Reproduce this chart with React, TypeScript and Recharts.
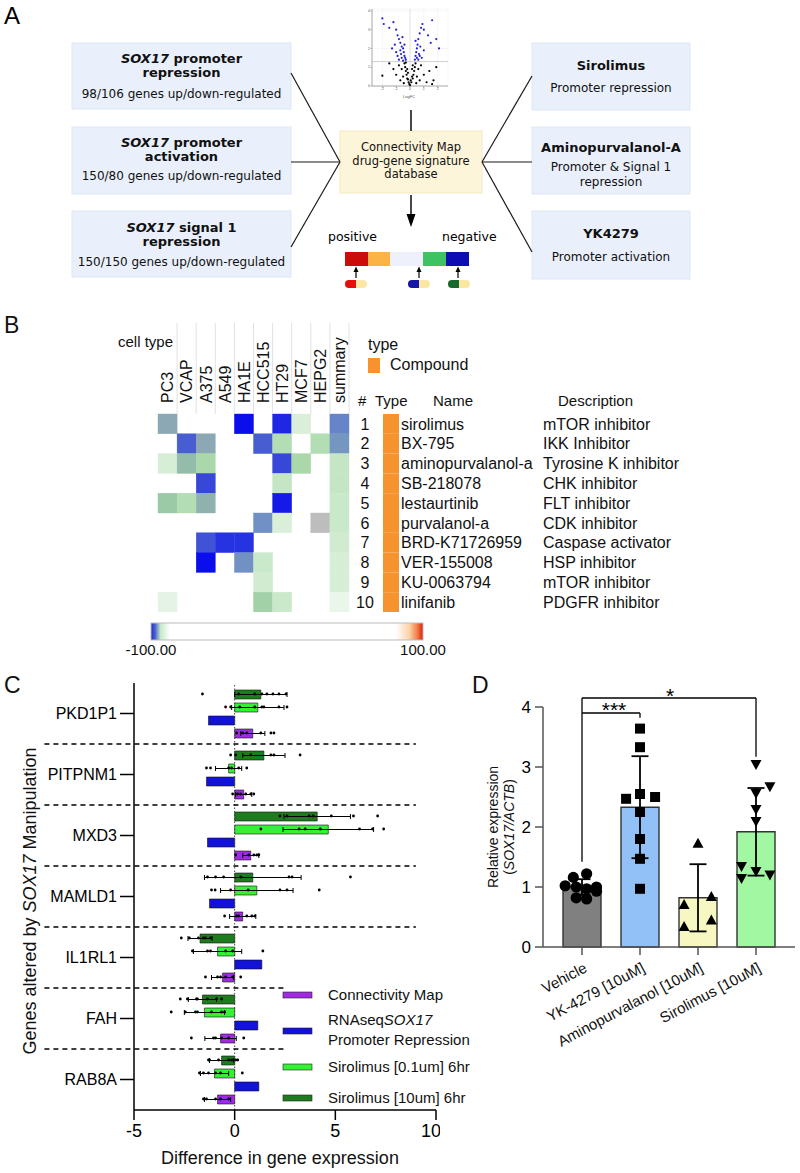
import React from 'react'
import {
  ScatterChart, Scatter, BarChart, Bar, XAxis, YAxis, ErrorBar, Cell,
  ReferenceLine, CartesianGrid,
} from 'recharts'

const SANS = '"Liberation Sans", Arial, sans-serif'
const VERDANA = '"DejaVu Sans", Verdana, sans-serif'

// ---- A: volcano thumbnail [logFC, -log10 p]
const VOLCANO_SIG = [
  [-2.0, 3.6], [-1.9, 3.3], [-1.5, 3.1], [-1.2, 3.4], [-1.0, 3.0], [-0.9, 2.7], [-0.8, 2.5],
  [-0.7, 2.3], [-0.6, 2.1], [-0.5, 2.0], [-0.45, 1.8], [-0.4, 1.6], [-0.35, 1.5], [-0.3, 1.4],
  [-0.7, 1.9], [-0.9, 1.6], [-1.1, 2.2], [-0.6, 1.5], [-0.55, 2.6], [-1.3, 2.0], [0.35, 1.4],
  [0.4, 1.6], [0.45, 1.8], [0.5, 2.0], [0.55, 2.2], [0.6, 2.5], [0.7, 2.8], [0.8, 3.1],
  [0.9, 3.3], [1.0, 3.0], [1.6, 3.5], [1.3, 2.7], [0.65, 1.7], [0.75, 2.1], [0.5, 1.5],
  [1.5, 2.3], [2.1, 2.0], [1.9, 2.5], [1.0, 1.9], [0.85, 1.5], [-0.8, 1.4], [-1.0, 1.8],
  [-0.5, 1.35], [-0.4, 2.2], [0.4, 2.4], [0.6, 1.4], [-0.65, 1.7], [0.7, 1.6],
]
const VOLCANO_NS = [
  [0, 0.05], [-0.1, 0.2], [0.1, 0.2], [-0.2, 0.4], [0.2, 0.4], [-0.25, 0.6], [0.25, 0.6],
  [-0.3, 0.8], [0.3, 0.8], [-0.35, 1.0], [0.35, 1.0], [-0.4, 1.2], [0.4, 1.2], [-0.5, 0.5],
  [0.5, 0.5], [-0.6, 0.9], [0.6, 0.9], [-0.7, 0.3], [0.7, 0.3], [-0.8, 1.1], [0.8, 1.1],
  [-1.0, 0.6], [1.0, 0.6], [-1.2, 0.9], [1.2, 0.2], [1.4, 0.8], [1.6, 0.1], [1.7, 0.3],
  [-2.0, 0.55], [-0.15, 0.7], [0.15, 0.9], [-0.45, 0.15], [0.45, 0.15], [-1.5, 1.2], [1.9, 1.0],
  [-0.05, 0.1], [0.05, 0.3], [-0.15, 0.35], [0.15, 0.5], [-0.2, 0.9], [0.2, 1.1], [-0.3, 1.25],
]

// ---- B: connectivity map query
const CELL_LINES = ['PC3', 'VCAP', 'A375', 'A549', 'HA1E', 'HCC515', 'HT29', 'MCF7', 'HEPG2', 'summary']
const DRUGS = ['sirolimus', 'BX-795', 'aminopurvalanol-a', 'SB-218078', 'lestaurtinib', 'purvalanol-a',
  'BRD-K71726959', 'VER-155008', 'KU-0063794', 'linifanib']
const DRUG_CLASS = ['mTOR inhibitor', 'IKK Inhibitor', 'Tyrosine K inhibitor', 'CHK inhibitor', 'FLT inhibitor',
  'CDK inhibitor', 'Caspase activator', 'HSP inhibitor', 'mTOR inhibitor', 'PDGFR inhibitor']
const NA = 'NA'
// one row per drug, columns follow CELL_LINES; null = not in top hits
const SCORES: (number | null | string)[][] = [
  [-97, null, null, null, -99.9, null, -99.7, -90.5, null, -98.6],
  [null, -99.2, -97, null, null, -99.2, -93.5, null, -93.5, -98],
  [-91, -96, -94, null, null, null, -99.4, -94, null, -92.5],
  [null, null, -99.4, null, null, null, -92.5, null, null, -92.5],
  [-95, -93.5, -96.5, null, null, null, -99.8, null, null, -92],
  [null, null, null, null, null, -98.2, -90.5, null, NA, -92],
  [null, null, -99.3, -99.6, -99.6, null, null, null, null, -91.5],
  [null, null, -99.9, null, -98.2, -92, null, null, null, -91],
  [null, null, null, null, null, -91.5, null, null, null, -91],
  [-89, null, null, null, null, -94.5, -92, null, null, -87],
]
const HEAT_STOPS: [number, number[]][] = [
  [-100, [0, 0, 240]], [-99.7, [30, 40, 228]], [-99.2, [72, 94, 208]], [-98.6, [104, 132, 200]],
  [-98, [118, 150, 194]], [-97, [140, 168, 180]], [-96, [148, 188, 170]], [-95, [154, 202, 166]],
  [-94, [170, 216, 170]], [-92.5, [196, 230, 196]], [-91, [214, 238, 214]], [-89, [228, 243, 228]],
  [-85, [242, 249, 242]], [-80, [255, 255, 255]],
]

// ---- C: qPCR after sirolimus vs. signatures
const GENES = ['PKD1P1', 'PITPNM1', 'MXD3', 'MAMLD1', 'IL1RL1', 'FAH', 'RAB8A']
const SIRO10 = [1.3, 1.45, 4.1, 0.9, -1.72, -1.6, -0.65]
const SIRO10_SD = [1.3, 1.05, 1.65, 2.4, 0.6, 0.7, 0.6]
const SIRO01 = [1.15, -0.3, 4.65, 1.1, -0.85, -1.5, -1.0]
const SIRO01_SD = [1.3, 0.65, 2.25, 1.8, 1.2, 1.0, 0.7]
const RNASEQ = [-1.3, -1.4, -1.35, -1.25, 1.35, 1.15, 1.2]
const CMAP = [0.9, 0.45, 0.8, 0.4, -0.6, -0.7, -0.85]
const CMAP_SD = [0.6, 0.4, 0.4, 0.65, 0.55, 0.78, 0.65]
const SIRO10_REPS = [
  [-1.6, 0.2, 1.0, 1.35, 1.6, 1.9, 2.2, 2.55],
  [-0.2, 0.05, 0.8, 1.8, 1.95, 3.25],
  [2.25, 2.6, 3.7, 3.9, 4.8, 5.9, 7.1],
  [-1.35, -0.95, -0.55, 0.3, 2.7, 2.85, 5.75],
  [-2.65, -2.25, -1.8, -1.55, -1.45, -1.2],
  [-2.7, -2.35, -1.9, -1.85, -1.35, -0.9, -0.65],
  [-1.3, -1.25, -0.8, -0.3, -0.15, 0.05, 0.15],
]
const SIRO01_REPS = [
  [-0.45, -0.2, 0.25, 1.0, 1.35, 1.45, 2.2, 2.6],
  [-1.4, -1.2, -0.3, -0.15, 0.2, 0.6],
  [1.3, 3.2, 3.5, 4.25, 6.2, 6.85, 7.4],
  [-1.15, -0.97, -0.2, 0.67, 2.25, 2.6, 4.2],
  [-2.1, -1.35, -1.2, -0.45, -0.1, 1.4],
  [-3.15, -2.45, -1.95, -1.85, -1.15, -0.65, -0.5],
  [-1.75, -1.55, -1.3, -0.95, -0.7, 0.38],
]
const CMAP_REPS = [
  [0.1, 0.4, 0.6, 1.3, 1.8, 1.95],
  [-0.1, 0.15, 0.3, 0.55, 0.8, 0.95],
  [0.05, 0.7, 0.95, 1.1, 1.2],
  [-0.5, 0.1, 0.2, 0.6, 0.85, 1.0],
  [-1.45, -0.85, -0.7, -0.45, -0.1, 0.3],
  [-2.15, -1.05, -0.95, -0.65, -0.3, 0.45],
  [-1.55, -1.4, -0.95, -0.7, -0.3],
]

// ---- D: SOX17 expression after treatment
const TREATMENTS = ['Vehicle', 'YK-4279 [10uM]', 'Aminopurvalanol [10uM]', 'Sirolimus [10uM]']
const REL_MEAN = [1.0, 2.33, 0.82, 1.92]
const REL_SD = [0.13, 0.85, 0.56, 0.73]
// [jitter, value]
const VEHICLE_PTS = [[0.08, 1.22], [-0.15, 1.16], [-0.29, 1.02], [0.25, 1.0], [-0.1, 1.0], [0.08, 0.97], [0.25, 0.93], [-0.1, 0.82], [0.08, 0.8]]
const YK_PTS = [[0, 3.64], [0, 3.33], [-0.24, 2.47], [0, 2.55], [0.26, 2.5], [0, 2.25], [0, 1.8], [0, 1.47], [0, 0.97]]
const AMINO_PTS = [[0, 1.73], [-0.24, 0.71], [0.23, 0.84], [-0.24, 0.34], [0.23, 0.45]]
const SIRO_PTS = [[0, 3.04], [0.24, 2.67], [0, 2.56], [0, 2.29], [0, 2.09], [-0.25, 1.34], [-0.25, 1.14], [0, 1.26], [0.24, 1.2]]

const C_COLORS = { siro10: '#1e7b1e', siro01: '#35f035', rnaseq: '#1212d8', cmap: '#a12be0' }
const D_COLORS = ['#808080', '#92c1f7', '#f7f7c2', '#a2f7a2']

function heatColor(v: any) {
  if (v === NA) return '#bdbdbd'
  if (v <= HEAT_STOPS[0][0]) return `rgb(${HEAT_STOPS[0][1].join(',')})`
  for (let i = 1; i < HEAT_STOPS.length; i++) {
    const [v1, c1] = HEAT_STOPS[i]
    const [v0, c0] = HEAT_STOPS[i - 1]
    if (v <= v1) {
      const t = (v - v0) / (v1 - v0)
      const c = c0.map((a, k) => Math.round(a + (c1[k] - a) * t))
      return `rgb(${c.join(',')})`
    }
  }
  return '#fff'
}

// ------------------------------------------------------------ panel A
function PanelA() {
  const box = (x: number, y: number, w: number, h: number) => (
    <rect x={x} y={y} width={w} height={h} fill="#e9f0fb" stroke="#dde7f6" />
  )
  const pill = (x: number, c: string) => (
    <g>
      <rect x={x} y={280} width={22} height={8} rx={4} fill="#fbe7a4" />
      <rect x={x} y={280} width={11} height={8} rx={4} fill={c} />
      <rect x={x + 6} y={280} width={5} height={8} fill={c} />
    </g>
  )
  const upArrow = (x: number) => (
    <g>
      <line x1={x} y1={278} x2={x} y2={271} stroke="#000" strokeWidth={1.2} />
      <polygon points={`${x - 2.5},272 ${x + 2.5},272 ${x},266.5`} fill="#000" />
    </g>
  )
  return (
    <svg width={800} height={290} style={{ position: 'absolute', left: 0, top: 0 }} fontFamily={VERDANA}>
      <text x={4} y={24} fontSize={24} fontFamily={SANS}>A</text>
      {box(72, 43, 219, 66)}
      {box(72, 127, 219, 67)}
      {box(72, 211, 219, 66)}
      {box(532, 43, 158, 67)}
      {box(532, 127, 158, 67)}
      {box(532, 211, 158, 68)}
      <rect x={340} y={131} width={142} height={62} fill="#fdf5d9" stroke="#f3e8c0" />
      <g fill="#111" textAnchor="middle">
        <text x={181.5} y={63} fontSize={13} fontWeight="bold"><tspan fontStyle="italic">SOX17</tspan> promoter</text>
        <text x={181.5} y={77} fontSize={13} fontWeight="bold">repression</text>
        <text x={181.5} y={98} fontSize={12}>98/106 genes up/down-regulated</text>
        <text x={181.5} y={147} fontSize={13} fontWeight="bold"><tspan fontStyle="italic">SOX17</tspan> promoter</text>
        <text x={181.5} y={161} fontSize={13} fontWeight="bold">activation</text>
        <text x={181.5} y={180} fontSize={12}>150/80 genes up/down-regulated</text>
        <text x={181.5} y={232} fontSize={13} fontWeight="bold"><tspan fontStyle="italic">SOX17</tspan> signal 1</text>
        <text x={181.5} y={246} fontSize={13} fontWeight="bold">repression</text>
        <text x={181.5} y={266} fontSize={12}>150/150 genes up/down-regulated</text>
        <text x={411} y={151} fontSize={11.5}>Connectivity Map</text>
        <text x={411} y={165} fontSize={11.5}>drug-gene signature</text>
        <text x={411} y={178} fontSize={11.5}>database</text>
        <text x={611} y={70} fontSize={13} fontWeight="bold">Sirolimus</text>
        <text x={611} y={92} fontSize={12}>Promoter repression</text>
        <text x={611} y={152} fontSize={13} fontWeight="bold">Aminopurvalanol-A</text>
        <text x={611} y={171} fontSize={12}>Promoter &amp; Signal 1</text>
        <text x={611} y={186} fontSize={12}>repression</text>
        <text x={611} y={238} fontSize={13} fontWeight="bold">YK4279</text>
        <text x={611} y={261} fontSize={12}>Promoter activation</text>
      </g>
      <g stroke="#1a1a1a" strokeWidth={1.2}>
        <line x1={291} y1={73} x2={340} y2={162} />
        <line x1={291} y1={162} x2={340} y2={162} />
        <line x1={291} y1={247} x2={340} y2={162} />
        <line x1={482} y1={162} x2={532} y2={76} />
        <line x1={482} y1={162} x2={532} y2={162} />
        <line x1={482} y1={162} x2={532} y2={252} />
        <line x1={411} y1={110} x2={411} y2={131} strokeWidth={1.6} />
        <line x1={411} y1={195} x2={411} y2={216} strokeWidth={1.6} />
      </g>
      <polygon points="406.5,214 415.5,214 411,227" fill="#000" />
      <text x={328} y={241} fontSize={12.5}>positive</text>
      <text x={442} y={241} fontSize={12.5}>negative</text>
      <rect x={345} y={252} width={23} height={14} fill="#cc0b0b" />
      <rect x={368} y={252} width={22} height={14} fill="#fbb343" />
      <rect x={390} y={252} width={33} height={14} fill="#eef0fb" />
      <rect x={423} y={252} width={23} height={14} fill="#3ec262" />
      <rect x={446} y={252} width={23} height={14} fill="#0d0db3" />
      {upArrow(356)}
      {upArrow(419)}
      {upArrow(458)}
      {pill(345, '#e60d0d')}
      {pill(408, '#1616a8')}
      {pill(448, '#17692d')}
    </svg>
  )
}

function Volcano() {
  const sig = VOLCANO_SIG.map(([x, y]) => ({ x, y }))
  const ns = VOLCANO_NS.map(([x, y]) => ({ x, y }))
  const dot = (fill: string) => (p: any) => <circle cx={p.cx} cy={p.cy} r={1.1} fill={fill} />
  return (
    <div style={{ position: 'absolute', left: 360, top: 0 }}>
      <ScatterChart width={100} height={105} margin={{ top: 9, right: 12, bottom: 11, left: 7 }}>
        <CartesianGrid stroke="#eee" strokeWidth={0.5} />
        <XAxis type="number" dataKey="x" domain={[-2.75, 2.75]} ticks={[-2, -1, 0, 1, 2]} height={8}
          tickSize={1.5} tickMargin={0.5} stroke="#aaa" tick={{ fontSize: 3.5, fill: '#555' }} />
        <YAxis type="number" dataKey="y" domain={[0, 4.1]} ticks={[0, 1, 2, 3, 4]} width={5}
          tickSize={1.5} tickMargin={0.5} stroke="#aaa" tick={{ fontSize: 3.5, fill: '#555' }} />
        <ReferenceLine y={1.3} stroke="#bbb" strokeWidth={0.7} />
        <ReferenceLine x={0} stroke="#ccc" strokeWidth={0.5} />
        <Scatter data={ns} shape={dot('#000')} isAnimationActive={false} />
        <Scatter data={sig} shape={dot('#2424d6')} isAnimationActive={false} />
      </ScatterChart>
      <div style={{ position: 'absolute', left: 43, top: 94, fontSize: 4, color: '#555' }}>LogFC</div>
    </div>
  )
}

// ------------------------------------------------------------ panel B
const HM_W = 800, HM_H = 322, HM_LEFT = 158, HM_HEAD = 124, HM_RIGHT = 451
const HM_COL_W = (HM_W - HM_LEFT - HM_RIGHT) / CELL_LINES.length
const HM_ROW_H = (HM_H - HM_HEAD) / DRUGS.length

function HeatCell(p: any) {
  const fill = heatColor(p.payload.score)
  return <rect x={p.cx - HM_COL_W / 2} y={p.cy - HM_ROW_H / 2} width={HM_COL_W} height={HM_ROW_H}
    fill={fill} stroke={fill} strokeWidth={0.4} />
}

function ColumnTick(p: any) {
  const { x, y, payload } = p
  return (
    <g>
      <line x1={x + HM_COL_W / 2} x2={x + HM_COL_W / 2} y1={y - 83} y2={y + 8} stroke="#e2e2e2" />
      <text x={0} y={0} transform={`translate(${x},${y - 3}) rotate(-90)`} dy="0.36em" fontSize={16}
        fill="#111" fontFamily={SANS}>{CELL_LINES[payload.value]}</text>
    </g>
  )
}

function DrugTick(p: any) {
  const { x, y, payload } = p
  const i = payload.value - 1
  return (
    <g fontFamily={SANS} fontSize={16} fill="#111">
      <text x={x + 8} y={y} dy="0.36em" textAnchor="middle">{payload.value}</text>
      <rect x={x + 26} y={y - HM_ROW_H / 2} width={16} height={HM_ROW_H} fill="#f7932f" />
      <text x={x + 44} y={y} dy="0.36em">{DRUGS[i]}</text>
      <text x={x + 186} y={y} dy="0.36em">{DRUG_CLASS[i]}</text>
    </g>
  )
}

function Heatmap() {
  const cells: any[] = []
  SCORES.forEach((row, r) => row.forEach((score, c) => {
    if (score !== null) cells.push({ col: c, row: r + 1, score })
  }))
  return (
    <div style={{ position: 'absolute', left: 0, top: 290 }}>
      <ScatterChart width={HM_W} height={HM_H} margin={{ top: 0, right: 0, bottom: 0, left: HM_LEFT }}>
        <XAxis type="number" dataKey="col" orientation="top" domain={[-0.5, 9.5]}
          ticks={CELL_LINES.map((_, i) => i)} interval={0} height={HM_HEAD}
          axisLine={false} tickLine={false} tick={<ColumnTick />} />
        <YAxis type="number" dataKey="row" orientation="right" domain={[0.5, 10.5]} reversed
          ticks={DRUGS.map((_, i) => i + 1)} interval={0} width={HM_RIGHT}
          axisLine={false} tickLine={false} tick={<DrugTick />} />
        <Scatter data={cells} shape={HeatCell} isAnimationActive={false} />
      </ScatterChart>
    </div>
  )
}

// ------------------------------------------------------------ panel C
const C_W = 440, C_H = 503
const C_MARGIN = { top: 13, right: 4, bottom: 33, left: 0 }
const C_XAXIS_H = 30, C_YAXIS_W = 134
const BAR_SIZE = 9, BAR_GAP = 4
const C_BAND = (C_H - C_MARGIN.top - C_MARGIN.bottom - C_XAXIS_H) / GENES.length
const C_STEP = (BAR_SIZE + BAR_GAP) / C_BAND

function GeneBars() {
  const rows = GENES.map((gene, i) => ({
    gene,
    siro10: SIRO10[i], siro10Sd: SIRO10_SD[i],
    siro01: SIRO01[i], siro01Sd: SIRO01_SD[i],
    rnaseq: RNASEQ[i],
    cmap: CMAP[i], cmapSd: CMAP_SD[i],
  }))
  // replicate dots sit on the bar they belong to: slot 0..3 within a gene band
  const dots: any[] = []
  const addReps = (reps: number[][], slot: number) => reps.forEach((vals, g) =>
    vals.forEach(v => dots.push({ v, pos: g + 0.5 + (slot - 1.5) * C_STEP })))
  addReps(SIRO10_REPS, 0)
  addReps(SIRO01_REPS, 1)
  addReps(CMAP_REPS, 3)

  const axisTick = { fill: '#000', fontSize: 18, fontFamily: SANS }
  return (
    <div style={{ position: 'absolute', left: 0, top: 670 }}>
      <BarChart layout="vertical" width={C_W} height={C_H} data={rows} margin={C_MARGIN}
        barSize={BAR_SIZE} barGap={BAR_GAP}>
        <XAxis type="number" domain={[-5, 10]} ticks={[-5, 0, 5, 10]} height={C_XAXIS_H}
          tickSize={10} tickMargin={4} stroke="#000" strokeWidth={1.5} tick={axisTick} />
        <YAxis type="category" dataKey="gene" width={C_YAXIS_W} tickSize={14} tickMargin={3}
          interval={0} stroke="#000" strokeWidth={1.5} tick={{ ...axisTick, fontSize: 16 }} />
        <ReferenceLine x={0} stroke="#444" strokeDasharray="1.5 2" />
        <Bar dataKey="siro10" fill={C_COLORS.siro10} stroke="#111" strokeWidth={0.6} isAnimationActive={false}>
          <ErrorBar dataKey="siro10Sd" direction="x" width={2.5} stroke="#000" strokeWidth={1} />
        </Bar>
        <Bar dataKey="siro01" fill={C_COLORS.siro01} stroke="#111" strokeWidth={0.6} isAnimationActive={false}>
          <ErrorBar dataKey="siro01Sd" direction="x" width={2.5} stroke="#000" strokeWidth={1} />
        </Bar>
        <Bar dataKey="rnaseq" fill={C_COLORS.rnaseq} stroke="#111" strokeWidth={0.6} isAnimationActive={false} />
        <Bar dataKey="cmap" fill={C_COLORS.cmap} stroke="#111" strokeWidth={0.6} isAnimationActive={false}>
          <ErrorBar dataKey="cmapSd" direction="x" width={2.5} stroke="#000" strokeWidth={1} />
        </Bar>
      </BarChart>
      <div style={{ position: 'absolute', left: 0, top: 0 }}>
        <ScatterChart width={C_W} height={C_H}
          margin={{ top: C_MARGIN.top, right: C_MARGIN.right, bottom: C_MARGIN.bottom + C_XAXIS_H, left: C_YAXIS_W }}>
          <XAxis type="number" dataKey="v" domain={[-5, 10]} hide />
          <YAxis type="number" dataKey="pos" domain={[0, GENES.length]} reversed hide />
          {GENES.slice(1).map((_, i) => (
            <ReferenceLine key={i} ifOverflow="visible" stroke="#000" strokeWidth={1.4} strokeDasharray="5 4"
              segment={[{ x: -9.45, y: i + 1 }, { x: i + 1 >= 5 ? 2.5 : 9, y: i + 1 }]} />
          ))}
          <Scatter data={dots} isAnimationActive={false}
            shape={(p: any) => <circle cx={p.cx} cy={p.cy} r={1.4} fill="#000" />} />
        </ScatterChart>
      </div>
    </div>
  )
}

// ------------------------------------------------------------ panel D
const D_W = 360, D_H = 503
const D_MARGIN = { top: 37, right: 5, bottom: 126, left: 0 }
const D_XAXIS_H = 100, D_YAXIS_W = 103
const D_PAD = { left: 10, right: 10 }

function TreatmentTick(p: any) {
  const { x, y, payload } = p
  return (
    <text x={x + 6} y={y + 14} textAnchor="end" fontSize={15} fill="#111" fontFamily={SANS}
      transform={`rotate(-28 ${x + 6} ${y + 14})`}>{payload.value}</text>
  )
}

const marker = (kind: string) => (p: any) => {
  const { cx, cy } = p
  if (kind === 'circle') return <circle cx={cx} cy={cy} r={5.6} fill="#000" />
  if (kind === 'square') return <rect x={cx - 5} y={cy - 5} width={10} height={10} fill="#000" />
  if (kind === 'up') return <polygon points={`${cx},${cy - 5.5} ${cx + 5.5},${cy + 4.5} ${cx - 5.5},${cy + 4.5}`} fill="#000" />
  return <polygon points={`${cx},${cy + 5.5} ${cx + 5.5},${cy - 4.5} ${cx - 5.5},${cy - 4.5}`} fill="#000" />
}

function Rescue() {
  const rows = TREATMENTS.map((name, i) => ({ name, mean: REL_MEAN[i], sd: REL_SD[i] }))
  const pts = (list: number[][], i: number) => list.map(([dx, y]) => ({ x: i + dx, y }))
  const bracket = { stroke: '#000', strokeWidth: 1.3, ifOverflow: 'visible' as const }
  return (
    <div style={{ position: 'absolute', left: 440, top: 670 }}>
      <BarChart width={D_W} height={D_H} data={rows} margin={D_MARGIN} barSize={38}>
        <XAxis dataKey="name" height={D_XAXIS_H} padding={D_PAD} tickSize={8} interval={0}
          stroke="#555" strokeWidth={1.5} tick={<TreatmentTick />} />
        <YAxis type="number" domain={[0, 4]} ticks={[0, 1, 2, 3, 4]} width={D_YAXIS_W} tickSize={8} tickMargin={4}
          stroke="#555" strokeWidth={1.5} tick={{ fill: '#000', fontSize: 17, fontFamily: SANS }} />
        <Bar dataKey="mean" stroke="#333" strokeWidth={1.4} isAnimationActive={false}>
          {rows.map((_, i) => <Cell key={i} fill={D_COLORS[i]} />)}
          <ErrorBar dataKey="sd" direction="y" width={8.5} stroke="#000" strokeWidth={1.8} />
        </Bar>
      </BarChart>
      <div style={{ position: 'absolute', left: 0, top: 0 }}>
        <ScatterChart width={D_W} height={D_H}
          margin={{ top: D_MARGIN.top, right: D_MARGIN.right, bottom: D_MARGIN.bottom + D_XAXIS_H, left: D_YAXIS_W }}>
          <XAxis type="number" dataKey="x" domain={[-0.5, 3.5]} padding={D_PAD} hide />
          <YAxis type="number" dataKey="y" domain={[0, 4]} hide />
          <ReferenceLine {...bracket} segment={[{ x: 0, y: 1.42 }, { x: 0, y: 4.15 }]} />
          <ReferenceLine {...bracket} segment={[{ x: 0, y: 3.9 }, { x: 1, y: 3.9 }]} />
          <ReferenceLine {...bracket} segment={[{ x: 1, y: 3.9 }, { x: 1, y: 3.82 }]} />
          <ReferenceLine {...bracket} segment={[{ x: 0, y: 4.15 }, { x: 3, y: 4.15 }]} />
          <ReferenceLine {...bracket} segment={[{ x: 3, y: 4.15 }, { x: 3, y: 3.17 }]} />
          <Scatter data={pts(VEHICLE_PTS, 0)} shape={marker('circle')} isAnimationActive={false} />
          <Scatter data={pts(YK_PTS, 1)} shape={marker('square')} isAnimationActive={false} />
          <Scatter data={pts(AMINO_PTS, 2)} shape={marker('up')} isAnimationActive={false} />
          <Scatter data={pts(SIRO_PTS, 3)} shape={marker('down')} isAnimationActive={false} />
        </ScatterChart>
      </div>
    </div>
  )
}

// ------------------------------------------------------------ free text
function Annotations() {
  const legend = [
    { c: C_COLORS.cmap, y: 995 },
    { c: C_COLORS.rnaseq, y: 1031 },
    { c: C_COLORS.siro01, y: 1067 },
    { c: C_COLORS.siro10, y: 1098 },
  ]
  return (
    <svg width={800} height={1173} style={{ position: 'absolute', left: 0, top: 0, pointerEvents: 'none' }}
      fontFamily={SANS} fill="#111">
      <text x={4} y={333} fontSize={23}>B</text>
      <text x={4} y={693} fontSize={23}>C</text>
      <text x={472} y={693} fontSize={23}>D</text>

      <text x={118} y={347} fontSize={15}>cell type</text>
      <text x={368} y={350} fontSize={16}>type</text>
      <rect x={368} y={358} width={12} height={15} fill="#f7932f" />
      <text x={390} y={370} fontSize={16}>Compound</text>
      <text x={358} y={406} fontSize={15}>#</text>
      <text x={375} y={406} fontSize={15}>Type</text>
      <text x={433} y={406} fontSize={15}>Name</text>
      <text x={558} y={406} fontSize={15}>Description</text>

      <defs>
        <linearGradient id="cmapScale" x1="0" x2="1" y1="0" y2="0">
          <stop offset="0" stopColor="#1f2fd0" />
          <stop offset="0.015" stopColor="#4a62cc" />
          <stop offset="0.035" stopColor="#c8e8c8" />
          <stop offset="0.07" stopColor="#ffffff" />
          <stop offset="0.9" stopColor="#ffffff" />
          <stop offset="0.95" stopColor="#fbd2a8" />
          <stop offset="0.98" stopColor="#f07a40" />
          <stop offset="1" stopColor="#e01a10" />
        </linearGradient>
      </defs>
      <rect x={151} y={623} width={272} height={17} fill="url(#cmapScale)" stroke="#bbb" />
      <text x={151} y={655} fontSize={15} textAnchor="middle">-100.00</text>
      <text x={423} y={655} fontSize={15} textAnchor="middle">100.00</text>

      <text transform="translate(36,901) rotate(-90)" fontSize={18} textAnchor="middle">
        Genes altered by <tspan fontStyle="italic">SOX17</tspan> Manipulation
      </text>
      <text x={280} y={1164} fontSize={18} textAnchor="middle">Difference in gene expression</text>
      {legend.map((l, i) => (
        <rect key={i} x={283} y={l.y - 3} width={29} height={6} fill={l.c} stroke="#222" strokeWidth={0.6} />
      ))}
      <text x={328} y={1000} fontSize={15}>Connectivity Map</text>
      <text x={328} y={1025} fontSize={15}>RNAseq<tspan fontStyle="italic">SOX17</tspan></text>
      <text x={328} y={1045} fontSize={15}>Promoter Repression</text>
      <text x={328} y={1072} fontSize={15}>Sirolimus [0.1um] 6hr</text>
      <text x={328} y={1103} fontSize={15}>Sirolimus [10um] 6hr</text>

      <text transform="translate(498,827) rotate(-90)" fontSize={14} textAnchor="middle">Relative expression</text>
      <text transform="translate(514,827) rotate(-90)" fontSize={14} textAnchor="middle">
        (<tspan fontStyle="italic">SOX17/ACTB</tspan>)
      </text>
      <text x={614} y={717} fontSize={21} textAnchor="middle" fill="#000">***</text>
      <text x={670} y={703} fontSize={21} textAnchor="middle" fill="#000">*</text>
    </svg>
  )
}

export default function App() {
  return (
    <div style={{ position: 'absolute', left: 0, top: 0, width: 800, height: 1173, background: '#fff',
      fontFamily: SANS, overflow: 'hidden' }}>
      <PanelA />
      <Volcano />
      <Heatmap />
      <GeneBars />
      <Rescue />
      <Annotations />
    </div>
  )
}
